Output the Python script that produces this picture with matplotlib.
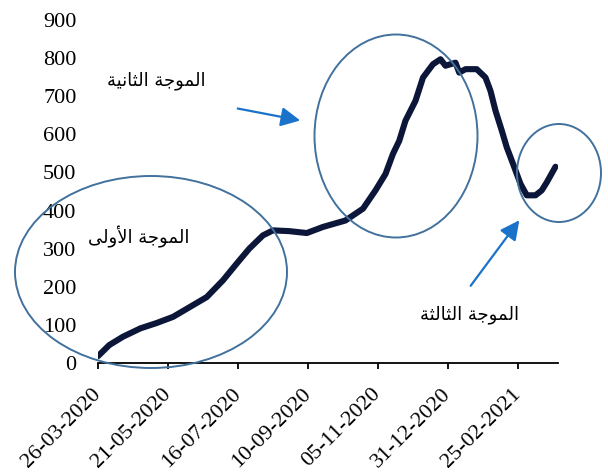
import matplotlib
matplotlib.use("Agg")
import matplotlib.pyplot as plt
import matplotlib.dates as mdates
import pandas as pd
from matplotlib.patches import Ellipse, FancyArrowPatch

# ---------------- data ----------------
dates = ["2020-03-26", "2020-04-04", "2020-04-15", "2020-04-29", "2020-05-12",
         "2020-05-25", "2020-06-07", "2020-06-21", "2020-07-04", "2020-07-15",
         "2020-07-25", "2020-08-05", "2020-08-13", "2020-08-26", "2020-09-09",
         "2020-09-22", "2020-10-10", "2020-10-24", "2020-11-03", "2020-11-11",
         "2020-11-17", "2020-11-22", "2020-11-27", "2020-12-05", "2020-12-11",
         "2020-12-19", "2020-12-25", "2020-12-29", "2021-01-06", "2021-01-09",
         "2021-01-14", "2021-01-23", "2021-01-30", "2021-02-03", "2021-02-07",
         "2021-02-12", "2021-02-16", "2021-02-22", "2021-02-27", "2021-03-04",
         "2021-03-11", "2021-03-16", "2021-03-20", "2021-03-27"]
values = [18, 47, 69, 91, 105,
          121, 146, 173, 217, 261,
          300, 335, 348, 346, 341,
          357, 374, 405, 453, 496,
          549, 583, 636, 688, 749,
          784, 797, 780, 788, 762,
          771, 771, 749, 714, 662,
          610, 566, 514, 470, 440,
          440, 453, 474, 515]
tick_dates = ["2020-03-26", "2020-05-21", "2020-07-16", "2020-09-10",
              "2020-11-05", "2020-12-31", "2021-02-25"]
y_ticks = [0, 100, 200, 300, 400, 500, 600, 700, 800, 900]
labels = ["الموجة الثانية", "الموجة الأولى", "الموجة الثالثة"]

# ---------------- simple Arabic shaping (presentation forms) ----------------
FORMS = {
    'ا': ('\uFE8D', '\uFE8E', None, None),
    'أ': ('\uFE83', '\uFE84', None, None),
    'ل': ('\uFEDD', '\uFEDE', '\uFEDF', '\uFEE0'),
    'م': ('\uFEE1', '\uFEE2', '\uFEE3', '\uFEE4'),
    'و': ('\uFEED', '\uFEEE', None, None),
    'ج': ('\uFE9D', '\uFE9E', '\uFE9F', '\uFEA0'),
    'ة': ('\uFE93', '\uFE94', None, None),
    'ث': ('\uFE99', '\uFE9A', '\uFE9B', '\uFE9C'),
    'ن': ('\uFEE5', '\uFEE6', '\uFEE7', '\uFEE8'),
    'ي': ('\uFEF1', '\uFEF2', '\uFEF3', '\uFEF4'),
    'ى': ('\uFEEF', '\uFEF0', None, None),
}
LAM_ALEF = {'ا': ('\uFEFB', '\uFEFC'), 'أ': ('\uFEF7', '\uFEF8')}


def shape_word(w):
    toks = []
    i = 0
    while i < len(w):
        if w[i] == 'ل' and i + 1 < len(w) and w[i + 1] in LAM_ALEF:
            toks.append(('LA', w[i + 1]))
            i += 2
        else:
            toks.append(('C', w[i]))
            i += 1

    def dual(t):
        return t[0] == 'C' and FORMS[t[1]][2] is not None

    out = []
    for k, t in enumerate(toks):
        jp = k > 0 and dual(toks[k - 1])
        jn = dual(t) and k + 1 < len(toks)
        if t[0] == 'LA':
            iso, fin = LAM_ALEF[t[1]]
            out.append(fin if jp else iso)
            continue
        f = FORMS[t[1]]
        if jp and jn:
            out.append(f[3])
        elif jp:
            out.append(f[1])
        elif jn:
            out.append(f[2])
        else:
            out.append(f[0])
    return ''.join(out)


def shape(s):
    return ' '.join(shape_word(w) for w in s.split(' '))[::-1]


# ---------------- figure ----------------
W, H = 608, 475
fig = plt.figure(figsize=(W / 100, H / 100), dpi=100)
ax = fig.add_axes([98 / W, 1 - 363 / H, (558 - 98) / W, (363 - 20) / H])

x = pd.to_datetime(dates)
ax.plot(x, values, color='#0b1638', lw=4.4, solid_capstyle='round',
        solid_joinstyle='round', zorder=3)

ax.set_ylim(0, 900)
ax.set_yticks(y_ticks)
ax.set_xlim(pd.Timestamp("2020-03-26"), pd.Timestamp("2021-03-29"))
ax.set_xticks(pd.to_datetime(tick_dates))
ax.xaxis.set_major_formatter(mdates.DateFormatter('%d-%m-%Y'))

for s in ['top', 'right', 'left']:
    ax.spines[s].set_visible(False)
ax.spines['bottom'].set_linewidth(1.3)
ax.tick_params(axis='y', length=0, pad=15.5, labelsize=16)
ax.tick_params(axis='x', direction='out', length=4, width=1.3, labelsize=16, pad=16.5)
for lab in ax.get_yticklabels() + ax.get_xticklabels():
    lab.set_fontfamily('Liberation Serif')
for lab in ax.get_xticklabels():
    lab.set_rotation(45)
    lab.set_ha('right')
    lab.set_va('center')
    lab.set_rotation_mode('anchor')


def fx(px):
    return px / W


def fy(py):
    return 1 - py / H


ell_col = '#41719c'
for cx, cy, w, h in [(151, 272, 272, 192), (396, 136, 163, 203), (559, 173, 84, 98)]:
    e = Ellipse((fx(cx), fy(cy)), w / W, h / H, transform=fig.transFigure,
                fill=False, edgecolor=ell_col, lw=1.4, zorder=4)
    fig.patches.append(e)

arrow_col = '#1a73c8'
for (x0, y0), (x1, y1) in [((235, 108), (303, 121)), ((469, 288), (521, 218))]:
    fig.add_artist(FancyArrowPatch(
        (fx(x0), fy(y0)), (fx(x1), fy(y1)), transform=fig.transFigure,
        arrowstyle='-|>,head_length=9,head_width=4.5', mutation_scale=1.3,
        color=arrow_col, lw=1.6))

for txt, (tx, ty) in zip(labels, [(156, 81), (139, 237), (469, 315)]):
    fig.text(fx(tx), fy(ty), shape(txt), ha='center', va='center',
             fontsize=13, family=['DejaVu Sans'], color='black')

fig.savefig('out.png', dpi=100)
